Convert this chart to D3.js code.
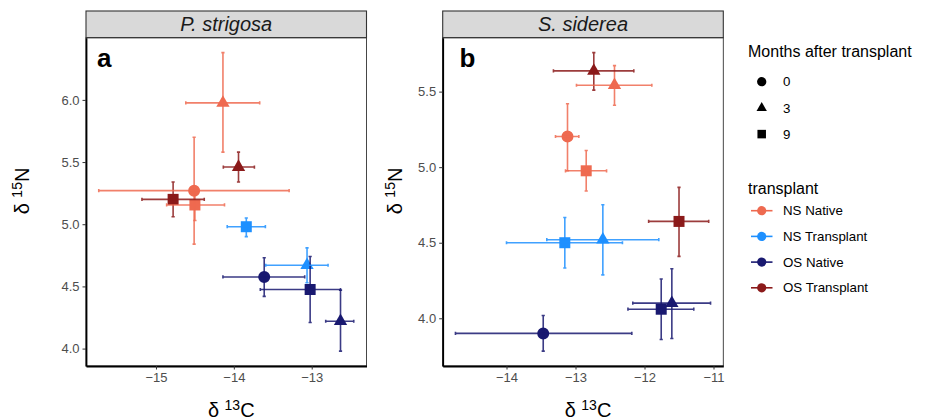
<!DOCTYPE html>
<html>
<head>
<meta charset="utf-8">
<script src="https://cdn.jsdelivr.net/npm/d3@7"></script>
<style>
  body { margin: 0; background: #fff; }
  svg { font-family: "Liberation Sans", Arial, sans-serif; }
</style>
</head>
<body>
<div id="chart"></div>
<script>
// --------------- Data ---------------
// one row per mean: [group, month, x, xmin, xmax, y, ymin, ymax]
const groups = ["NS Native", "NS Transplant", "OS Native", "OS Transplant"];
const months = ["0", "3", "9"];
const species = ["P. strigosa", "S. siderea"];
const panelLetters = ["a", "b"];

const strigosaRows = [
  ["NS Native", "0", -14.51, -15.735, -13.29, 5.27, 4.84, 5.70],
  ["NS Native", "3", -14.14, -14.617, -13.668, 5.976, 5.58, 6.38],
  ["NS Native", "9", -14.50, -14.863, -14.12, 5.155, 5.03, 5.28],
  ["NS Transplant", "3", -13.06, -13.59, -12.79, 4.67, 4.53, 4.81],
  ["NS Transplant", "9", -13.84, -14.085, -13.595, 4.98, 4.90, 5.05],
  ["OS Native", "0", -13.61, -14.14, -13.09, 4.576, 4.42, 4.73],
  ["OS Native", "3", -12.63, -12.82, -12.46, 4.22, 3.98, 4.47],
  ["OS Native", "9", -13.02, -13.66, -12.63, 4.475, 4.21, 4.74],
  ["OS Transplant", "3", -13.94, -14.135, -13.736, 5.46, 5.34, 5.58],
  ["OS Transplant", "9", -14.78, -15.18, -14.38, 5.20, 5.06, 5.34]
];

const sidereaRows = [
  ["NS Native", "0", -13.116, -13.29, -12.952, 5.203, 4.976, 5.42],
  ["NS Native", "3", -12.435, -12.986, -11.894, 5.542, 5.41, 5.672],
  ["NS Native", "9", -12.845, -13.145, -12.55, 4.976, 4.842, 5.11],
  ["NS Transplant", "3", -12.604, -13.416, -11.793, 4.52, 4.287, 4.751],
  ["NS Transplant", "9", -13.155, -14.0, -12.32, 4.5, 4.333, 4.667],
  ["OS Native", "0", -13.468, -14.74, -12.184, 3.90, 3.783, 4.018],
  ["OS Native", "3", -11.604, -12.17, -11.043, 4.10, 3.866, 4.328],
  ["OS Native", "9", -11.758, -12.24, -11.286, 4.06, 3.86, 4.26],
  ["OS Transplant", "3", -12.735, -13.32, -12.155, 5.637, 5.51, 5.758],
  ["OS Transplant", "9", -11.50, -11.94, -11.07, 4.641, 4.41, 4.866]
];

const strigosaXTicks = [-15, -14, -13];
const strigosaYTicks = [4.0, 4.5, 5.0, 5.5, 6.0];
const sidereaXTicks = [-14, -13, -12, -11];
const sidereaYTicks = [4.0, 4.5, 5.0, 5.5];

// --------------- Style ---------------
const WIDTH = 931;
const HEIGHT = 419;
const COLORS = ["#EE6A50", "#1E90FF", "#191970", "#8B1A1A"];
const SHAPES = [d3.symbolCircle, d3.symbolTriangle, d3.symbolSquare];
const SHAPE_SIZE = [113, 77, 121];
const STRIP_TOP = 11;
const PANEL_TOP = 37.7;
const PANEL_BOTTOM = 366;
const TEXT_GREY = "#4D4D4D";

const color = d3.scaleOrdinal().domain(groups).range(COLORS);
const shape = d3.scaleOrdinal().domain(months).range(SHAPES);
const shapeSize = d3.scaleOrdinal().domain(months).range(SHAPE_SIZE);

const svg = d3.select("#chart").append("svg")
  .attr("width", WIDTH)
  .attr("height", HEIGHT);

function toRecord(r) {
  return { group: r[0], month: r[1], x: r[2], xmin: r[3], xmax: r[4], y: r[5], ymin: r[6], ymax: r[7] };
}

// ggplot-style 5% expansion of the data range
function expand(lo, hi) {
  const pad = (hi - lo) * 0.05;
  return [lo - pad, hi + pad];
}

function drawPanel(rows, opts) {
  const data = rows.map(toRecord);
  const left = opts.left, right = opts.right;

  const x = d3.scaleLinear()
    .domain(expand(d3.min(data, d => d.xmin), d3.max(data, d => d.xmax)))
    .range([left, right]);
  const y = d3.scaleLinear()
    .domain(expand(d3.min(data, d => d.ymin), d3.max(data, d => d.ymax)))
    .range([PANEL_BOTTOM, PANEL_TOP]);

  const g = svg.append("g");

  // strip
  g.append("rect")
    .attr("x", left).attr("y", STRIP_TOP)
    .attr("width", right - left).attr("height", PANEL_TOP - STRIP_TOP)
    .attr("fill", "#D9D9D9").attr("stroke", "#333").attr("stroke-width", 1.1);
  g.append("text")
    .attr("x", (left + right) / 2).attr("y", 31)
    .attr("text-anchor", "middle")
    .attr("font-size", 20).attr("font-style", "italic")
    .attr("fill", "#1A1A1A")
    .text(opts.title);

  // panel border
  g.append("rect")
    .attr("x", left).attr("y", PANEL_TOP)
    .attr("width", right - left).attr("height", PANEL_BOTTOM - PANEL_TOP)
    .attr("fill", "none").attr("stroke", "#333").attr("stroke-width", 0.9);

  // axes
  const xAxis = g.append("g")
    .attr("transform", `translate(0,${PANEL_BOTTOM})`)
    .call(d3.axisBottom(x).tickValues(opts.xTicks).tickFormat(d3.format("d"))
      .tickSize(3.5).tickSizeOuter(0).tickPadding(3));
  const yAxis = g.append("g")
    .attr("transform", `translate(${left},0)`)
    .call(d3.axisLeft(y).tickValues(opts.yTicks).tickFormat(d3.format(".1f"))
      .tickSize(3.5).tickSizeOuter(0).tickPadding(3));

  [xAxis, yAxis].forEach(a => {
    a.select(".domain").attr("stroke", "#000").attr("stroke-width", 1.8);
    a.selectAll(".tick line").attr("stroke", "#333").attr("stroke-width", 1);
    a.selectAll(".tick text")
      .attr("fill", TEXT_GREY)
      .attr("font-size", 13)
      .attr("font-family", "Liberation Sans, Arial, sans-serif");
  });

  // points
  g.append("g")
    .selectAll("path")
    .data(data)
    .enter()
    .append("path")
    .attr("transform", d => `translate(${x(d.x)},${y(d.y)})`)
    .attr("d", d => d3.symbol().type(shape(d.month)).size(shapeSize(d.month))())
    .attr("fill", d => color(d.group));

  // error bars: vertical then horizontal, with small caps
  const CAP = 1.6;
  const bars = g.append("g")
    .attr("fill", "none")
    .attr("stroke-width", 1.6)
    .attr("stroke-opacity", 0.85);

  bars.selectAll("path.v")
    .data(data)
    .enter()
    .append("path")
    .attr("class", "v")
    .attr("stroke", d => color(d.group))
    .attr("d", d => {
      const cx = x(d.x), y0 = y(d.ymin), y1 = y(d.ymax);
      return `M${cx},${y0}V${y1}M${cx - CAP},${y0}H${cx + CAP}M${cx - CAP},${y1}H${cx + CAP}`;
    });

  bars.selectAll("path.h")
    .data(data)
    .enter()
    .append("path")
    .attr("class", "h")
    .attr("stroke", d => color(d.group))
    .attr("d", d => {
      const cy = y(d.y), x0 = x(d.xmin), x1 = x(d.xmax);
      return `M${x0},${cy}H${x1}M${x0},${cy - CAP}V${cy + CAP}M${x1},${cy - CAP}V${cy + CAP}`;
    });

  // panel letter
  g.append("text")
    .attr("x", opts.letterX).attr("y", 66.5)
    .attr("font-size", 26).attr("font-weight", "bold")
    .text(opts.letter);

  // axis titles
  const xt = g.append("text")
    .attr("x", (left + right) / 2 + 5).attr("y", 416.5)
    .attr("text-anchor", "middle")
    .attr("font-size", 20).attr("fill", "#000");
  xt.append("tspan").text("δ ");
  xt.append("tspan").attr("font-size", 14).attr("dy", -7).text("13");
  xt.append("tspan").attr("dy", 7).text("C");

  const yt = g.append("text")
    .attr("transform", `translate(${opts.yTitleX},191) rotate(-90)`)
    .attr("text-anchor", "middle")
    .attr("font-size", 20).attr("fill", "#000");
  yt.append("tspan").text("δ ");
  yt.append("tspan").attr("font-size", 14).attr("dy", -7).text("15");
  yt.append("tspan").attr("dy", 7).text("N");
}

drawPanel(strigosaRows, {
  left: 86, right: 366.5, title: species[0], letter: panelLetters[0],
  xTicks: strigosaXTicks, yTicks: strigosaYTicks, letterX: 97, yTitleX: 29
});
drawPanel(sidereaRows, {
  left: 442.7, right: 723.3, title: species[1], letter: panelLetters[1],
  xTicks: sidereaXTicks, yTicks: sidereaYTicks, letterX: 459.5, yTitleX: 402
});

// --------------- Legends ---------------
const legend = svg.append("g");
const KEY_X = 761.7;
const LABEL_X = 783;

legend.append("text")
  .attr("x", 748).attr("y", 57)
  .attr("font-size", 16).attr("fill", "#000")
  .text("Months after transplant");

const monthKeys = legend.selectAll("g.month")
  .data(months)
  .enter()
  .append("g")
  .attr("class", "month")
  .attr("transform", (d, i) => `translate(0,${81.7 + i * 26.2})`);
monthKeys.append("path")
  .attr("transform", `translate(${KEY_X},0)`)
  .attr("d", d => d3.symbol().type(shape(d)).size(shapeSize(d) * 0.6)())
  .attr("fill", "#000");
monthKeys.append("text")
  .attr("x", LABEL_X).attr("y", 4.6)
  .attr("font-size", 13.3).attr("fill", "#000")
  .text(d => d);

legend.append("text")
  .attr("x", 748).attr("y", 193.5)
  .attr("font-size", 16).attr("fill", "#000")
  .text("transplant");

const groupKeys = legend.selectAll("g.grp")
  .data(groups)
  .enter()
  .append("g")
  .attr("class", "grp")
  .attr("transform", (d, i) => `translate(0,${210.7 + i * 25.7})`);
groupKeys.append("line")
  .attr("x1", 751).attr("x2", 772.5)
  .attr("stroke", d => color(d)).attr("stroke-width", 1.6);
groupKeys.append("circle")
  .attr("cx", KEY_X).attr("r", 4.6)
  .attr("fill", d => color(d));
groupKeys.append("text")
  .attr("x", LABEL_X).attr("y", 4.6)
  .attr("font-size", 13.3).attr("fill", "#000")
  .text(d => d);
</script>
</body>
</html>
